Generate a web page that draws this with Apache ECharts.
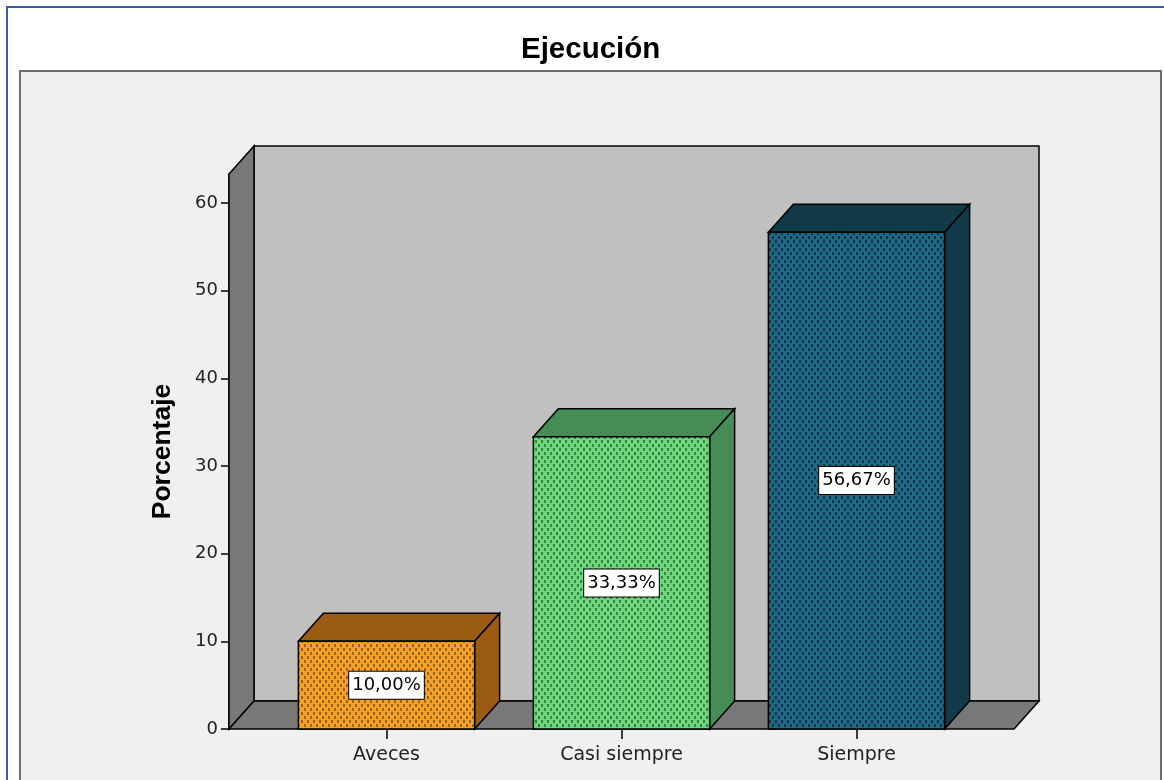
<!DOCTYPE html>
<html>
<head>
<meta charset="utf-8">
<title>Ejecución</title>
<script src="https://cdn.jsdelivr.net/npm/echarts@6/dist/echarts.min.js"></script>
<style>
    html, body { margin: 0; padding: 0; background: #fff; }
    #frame { position: absolute; left: 6px; top: 6px; width: 1300px; height: 900px;
             border-left: 2px solid #3b5ca6; border-top: 2px solid #3b5ca6; }
    #panel { position: absolute; left: 19px; top: 70px; width: 1143px; height: 800px;
             box-sizing: border-box; background: #f0f0f0; border: 2px solid #6e6e6e; }
    #main { position: absolute; left: 0; top: 0; width: 1164px; height: 780px; }
</style>
</head>
<body>
<div id="frame"></div>
<div id="panel"></div>
<div id="main"></div>
<script>
// datos del grafico
let categories = ['Aveces', 'Casi siempre', 'Siempre'];
let percentages = [10.00, 33.33, 56.67];
let yTicks = [0, 10, 20, 30, 40, 50, 60];

// colores: cara frontal, puntos de la trama, caras laterales
let palette = [
    { face: '#f7a227', dot: '#9a621a', dark: '#9b5b12' },
    { face: '#6ed87c', dot: '#3a8049', dark: '#468c56' },
    { face: '#1f6985', dot: '#0d3444', dark: '#113a48' }
];

const DX = 25, DY = 28;       // profundidad 3D
const PAD = 40;               // la pared empieza antes del eje de categorias

// trama de puntos como en SPSS
function makePattern(face, dot) {
    let c = document.createElement('canvas');
    c.width = 6; c.height = 8;
    let ctx = c.getContext('2d');
    ctx.fillStyle = face;
    ctx.fillRect(0, 0, 6, 8);
    ctx.fillStyle = dot;
    ctx.fillRect(1, 0, 2, 3);
    ctx.fillRect(4, 4, 2, 3);
    return c;
}

function fmt(v) {
    return v.toFixed(2).replace('.', ',') + '%';
}

let myChart = echarts.init(document.getElementById('main'), null, { renderer: 'canvas' });

// paredes y suelo del grafico 3D
function renderWalls(params, api) {
    let cs = params.coordSys;
    let L = cs.x - PAD, R = cs.x + cs.width + PAD;
    let bottom = api.coord([0, 0])[1];
    let top = cs.y;
    let line = { stroke: '#000', lineWidth: 1.5 };
    return {
        type: 'group',
        children: [
            { type: 'rect', shape: { x: L + DX, y: top - DY, width: R - L, height: bottom - top },
              style: Object.assign({ fill: '#c0c0c0' }, line) },
            { type: 'polygon', shape: { points: [[L, bottom], [L, top], [L + DX, top - DY], [L + DX, bottom - DY]] },
              style: Object.assign({ fill: '#787878' }, line) },
            { type: 'polygon', shape: { points: [[L, bottom], [R, bottom], [R + DX, bottom - DY], [L + DX, bottom - DY]] },
              style: Object.assign({ fill: '#787878' }, line) }
        ]
    };
}

function renderBar(params, api) {
    let idx = api.value(0), val = api.value(1);
    let topPt = api.coord([idx, val]);
    let basePt = api.coord([idx, 0]);
    let w = api.size([1, 0])[0] * 0.75;
    let x0 = topPt[0] - w / 2, x1 = topPt[0] + w / 2;
    let y0 = topPt[1], y1 = basePt[1];
    let p = palette[params.dataIndex];
    let line = { stroke: '#000', lineWidth: 1.5 };
    return {
        type: 'group',
        children: [
            { type: 'polygon', shape: { points: [[x0, y0], [x0 + DX, y0 - DY], [x1 + DX, y0 - DY], [x1, y0]] },
              style: Object.assign({ fill: p.dark }, line) },
            { type: 'polygon', shape: { points: [[x1, y0], [x1 + DX, y0 - DY], [x1 + DX, y1 - DY], [x1, y1]] },
              style: Object.assign({ fill: p.dark }, line) },
            { type: 'rect', shape: { x: x0, y: y0, width: w, height: y1 - y0 },
              style: Object.assign({ fill: { image: makePattern(p.face, p.dot), repeat: 'repeat' } }, line) },
            { type: 'text', x: topPt[0], y: (y0 + y1) / 2,
              style: { text: fmt(val), align: 'center', verticalAlign: 'middle',
                       font: '18px "DejaVu Sans", sans-serif', fill: '#000',
                       backgroundColor: '#fff', borderColor: '#000', borderWidth: 1,
                       padding: [5, 3, 4, 3] } }
        ]
    };
}

myChart.setOption({
    backgroundColor: 'transparent',
    animation: false,
    title: {
        text: 'Ejecución',
        left: 516,
        top: 30,
        textStyle: { fontFamily: 'Liberation Sans', fontWeight: 'bold', fontSize: 29.5, color: '#000' }
    },
    grid: { left: 269, right: 190, top: 174, bottom: 51 },
    xAxis: {
        type: 'category',
        data: categories,
        axisLine: { show: false },
        axisTick: { show: true, alignWithLabel: true, length: 10, lineStyle: { color: '#000', width: 1.5 } },
        axisLabel: { margin: 17, fontFamily: 'DejaVu Sans', fontSize: 19, color: '#222' },
        splitLine: { show: false }
    },
    yAxis: {
        type: 'value',
        min: 0,
        max: 63.3,
        interval: 10,
        offset: PAD,
        name: 'Porcentaje',
        nameLocation: 'middle',
        nameGap: 53,
        nameTextStyle: { fontFamily: 'Liberation Sans', fontWeight: 'bold', fontSize: 26.5, color: '#000' },
        axisLine: { show: true, lineStyle: { color: '#000', width: 1.5 } },
        axisTick: { show: true, length: 8, lineStyle: { color: '#000', width: 1.5 },
                    customValues: yTicks },
        axisLabel: { margin: 11, fontFamily: 'DejaVu Sans', fontSize: 18, color: '#222',
                     customValues: yTicks },
        splitLine: { show: false }
    },
    series: [
        {
            type: 'custom',
            z: 1,
            silent: true,
            renderItem: renderWalls,
            data: [[0, 0]]
        },
        {
            type: 'custom',
            z: 3,
            renderItem: renderBar,
            encode: { x: 0, y: 1 },
            data: percentages.map(function (v, i) { return [i, v]; })
        }
    ]
});
</script>
</body>
</html>
